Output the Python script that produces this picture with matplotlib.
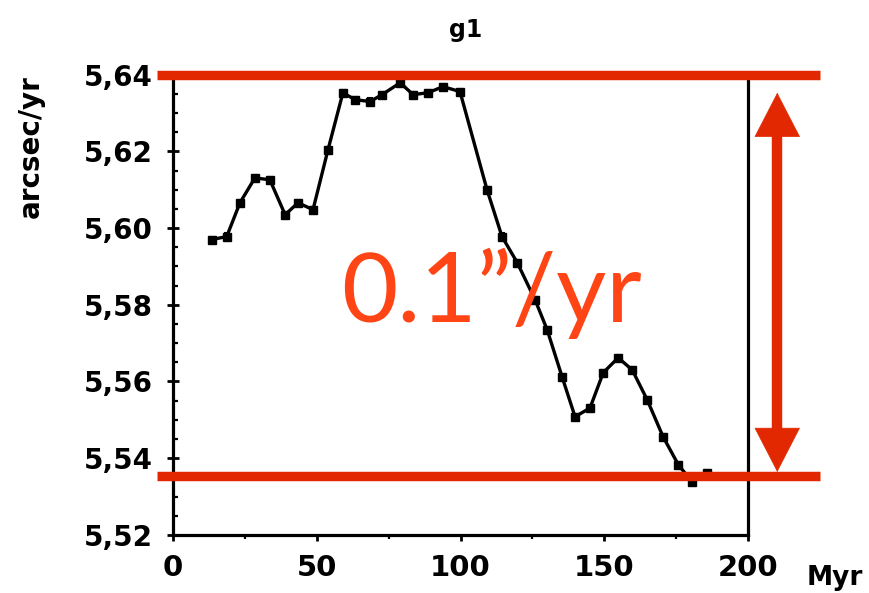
import matplotlib
matplotlib.use("Agg")
import matplotlib.pyplot as plt
from matplotlib.ticker import FixedLocator, MultipleLocator

# Time (Myr) and g1 frequency (arcsec/yr)
time_myr = [13.5, 18.7, 23.3, 28.5, 33.7, 39.0, 43.5, 48.7, 53.9, 59.1,
            63.3, 68.5, 72.7, 79.0, 83.5, 88.7, 93.9, 99.8, 109.2, 114.4,
            119.7, 125.9, 130.1, 135.3, 139.8, 145.0, 149.6, 154.8, 159.7,
            164.9, 170.4, 175.7, 180.5, 185.7]
g1_freq = [5.5970, 5.5978, 5.6066, 5.6131, 5.6126, 5.6035, 5.6066, 5.6048,
           5.6204, 5.6353, 5.6335, 5.6330, 5.6348, 5.6379, 5.6348, 5.6353,
           5.6369, 5.6356, 5.6100, 5.5978, 5.5910, 5.5813, 5.5735, 5.5612,
           5.5508, 5.5531, 5.5623, 5.5662, 5.5630, 5.5552, 5.5456, 5.5383,
           5.5338, 5.5362]
g1_err = [0.0008] * len(time_myr)

x_ticks = [0, 50, 100, 150, 200]
y_ticks = [5.52, 5.54, 5.56, 5.58, 5.60, 5.62, 5.64]
y_tick_labels = ["5,52", "5,54", "5,56", "5,58", "5,60", "5,62", "5,64"]

band_top = 5.640
band_bottom = 5.5353
arrow_top = 5.6353
arrow_bottom = 5.5364
band_label = "0.1\u201d/yr"

red = "#e22800"
label_red = "#ff4516"
bold_font = "DejaVu Sans"

fig = plt.figure(figsize=(8.69, 5.93), dpi=100)
ax = fig.add_axes([0.199, 0.098, 0.662, 0.776])

ax.errorbar(time_myr, g1_freq, yerr=g1_err, color="black", lw=2.4,
            marker="s", ms=5.5, mfc="black", mec="black",
            elinewidth=1.5, capsize=2.5, capthick=1.5, zorder=3)

ax.set_xlim(0, 200)
ax.set_ylim(5.52, 5.64)
ax.xaxis.set_major_locator(FixedLocator(x_ticks))
ax.xaxis.set_minor_locator(MultipleLocator(25))
ax.yaxis.set_major_locator(FixedLocator(y_ticks))
ax.yaxis.set_minor_locator(MultipleLocator(0.005))
ax.set_yticklabels(y_tick_labels)
ax.set_xticklabels([str(v) for v in x_ticks])

for sp in ax.spines.values():
    sp.set_linewidth(2.3)
ax.tick_params(axis="y", which="major", direction="inout", length=9,
               width=2, pad=10)
ax.tick_params(axis="y", which="minor", direction="in", length=3.5,
               width=1.6)
ax.tick_params(axis="x", which="major", direction="out", length=4,
               width=2, pad=10)
ax.tick_params(axis="x", which="minor", direction="out", length=3,
               width=1.6)
for lab in ax.get_yticklabels():
    lab.set_fontweight("bold")
    lab.set_family(bold_font)
    lab.set_fontsize(20)
for lab in ax.get_xticklabels():
    lab.set_fontweight("bold")
    lab.set_family(bold_font)
    lab.set_fontsize(21)

fig.text(466 / 869, 1 - 37 / 593, "g1", fontsize=17, fontweight="bold",
         family=bold_font, ha="center", va="baseline")
fig.text(31 / 869, 1 - 147 / 593, "arcsec/yr", fontsize=20, fontweight="bold",
         family=bold_font, rotation=90, ha="center", va="center")
ax.text(1.15, -0.093, "Myr", transform=ax.transAxes, fontsize=19,
        fontweight="bold", family=bold_font, ha="center", va="center")

# Red range markers
for yv in (band_top, band_bottom):
    ax.plot([-5.6, 225], [yv, yv], color=red, lw=6.8, solid_capstyle="butt",
            clip_on=False, zorder=4)

arrow_x = 210.1
head = 0.0105
ax.plot([arrow_x, arrow_x], [arrow_bottom + head * 0.8, arrow_top - head * 0.8],
        color=red, lw=7.5, solid_capstyle="butt", clip_on=False, zorder=4)
ax.annotate("", xy=(arrow_x, arrow_bottom), xytext=(arrow_x, arrow_top),
            arrowprops=dict(arrowstyle="<|-|>,head_length=1.55,head_width=0.8",
                            color=red, lw=0.5, mutation_scale=20,
                            shrinkA=0, shrinkB=0),
            annotation_clip=False, zorder=4)

ax.text(110.6, 5.5756, band_label, color=label_red, fontsize=70,
        family="Lato", ha="center", va="baseline", zorder=5)

fig.savefig("out.png", dpi=100)
